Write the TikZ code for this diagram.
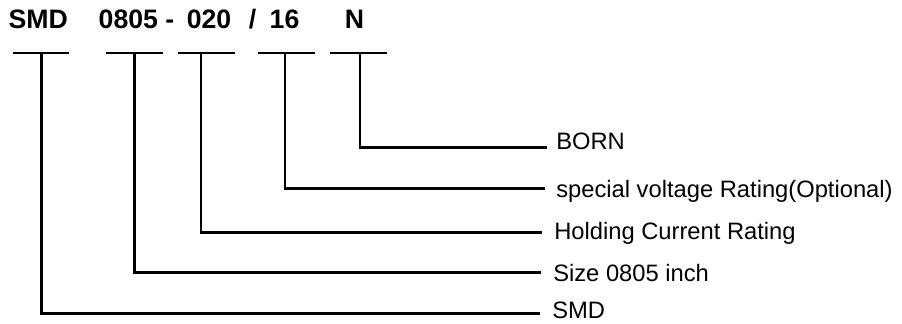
\documentclass[tikz,border=0pt]{standalone}
\usepackage{fontspec}
\setmainfont{Liberation Sans}
\begin{document}
\begin{tikzpicture}[x=0.75pt,y=-0.75pt,
  title/.style={font=\fontsize{20pt}{22pt}\selectfont\bfseries, inner sep=0pt, anchor=base},
  lbl/.style={font=\fontsize{17.8pt}{20pt}\selectfont, inner xsep=9pt, inner ysep=0pt, anchor=base west},
  bar/.style={line width=1.5pt},
  conn/.style={line width=2pt, line join=miter}]
\useasboundingbox (0,0) rectangle (902,324);
% title pieces
\node[title] (tSMD) at (38.3,29) {SMD};
\node[title] (t0805) at (136.5,29) {0805 -};
\node[title] (t020) at (209,29) {020};
\node[title] (tsl) at (252.5,29) {/};
\node[title] (t16) at (284.5,29) {16};
\node[title] (tN) at (354.5,29) {N};
% bars
\coordinate (b1l) at (13.3,53.3); \coordinate (b1r) at (69.3,53.3);
\coordinate (b2l) at (106,53.3);  \coordinate (b2r) at (162.7,53.3);
\coordinate (b3l) at (178.3,53.3); \coordinate (b3r) at (235,53.3);
\coordinate (b4l) at (258.3,53.3); \coordinate (b4r) at (315,53.3);
\coordinate (b5l) at (330,53.3);  \coordinate (b5r) at (386.7,53.3);
\draw[bar] (b1l) -- (b1r);
\draw[bar] (b2l) -- (b2r);
\draw[bar] (b3l) -- (b3r);
\draw[bar] (b4l) -- (b4r);
\draw[bar] (b5l) -- (b5r);
% branch points
\coordinate (p1) at (41.7,53.3);
\coordinate (p2) at (134.3,53.3);
\coordinate (p3) at (201,53.3);
\coordinate (p4) at (285,53.3);
\coordinate (p5) at (360,53.3);
% labels
\node[lbl] (l5) at (544,150) {BORN};
\node[lbl] (l4) at (544,197.5) {special voltage Rating(Optional)};
\node[lbl] (l3) at (542,239.5) {Holding Current Rating};
\node[lbl] (l2) at (541,281) {Size 0805 inch};
\node[lbl] (l1) at (540,318.5) {SMD};
% line ends
\coordinate (e5) at (546.7,147.3);
\coordinate (e4) at (545,188.3);
\coordinate (e3) at (541.7,232.3);
\coordinate (e2) at (540.7,272.7);
\coordinate (e1) at (540,313.3);
\draw[conn] (p5) |- (e5);
\draw[conn] (p4) |- (e4);
\draw[conn] (p3) |- (e3);
\draw[conn] (p2) |- (e2);
\draw[conn] (p1) |- (e1);
\end{tikzpicture}
\end{document}
